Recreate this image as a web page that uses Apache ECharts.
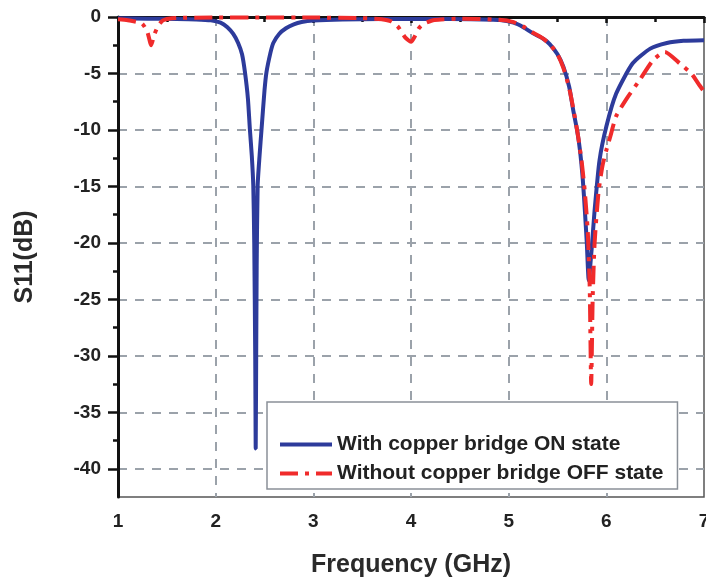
<!DOCTYPE html>
<html>
<head>
<meta charset="utf-8">
<script src="https://cdn.jsdelivr.net/npm/echarts@6/dist/echarts.min.js"></script>
<style>
  html, body { margin: 0; padding: 0; background: #fff; }
  #chart { width: 706px; height: 582px; }
</style>
</head>
<body>
<div id="chart"></div>
<script>
// values (GHz / dB)
const freqOn = [1.0, 1.3, 1.6, 1.8, 1.95, 2.05, 2.12, 2.18, 2.23, 2.27, 2.3, 2.33, 2.35, 2.37, 2.385, 2.395, 2.405, 2.41,
  2.415, 2.42, 2.43, 2.45, 2.47, 2.5, 2.52, 2.56, 2.59, 2.65, 2.72, 2.8, 2.88, 3.0, 3.3, 3.7, 4.2, 4.6, 4.91,
  5.05, 5.15, 5.25, 5.35, 5.42, 5.5, 5.56, 5.62, 5.66, 5.7, 5.73, 5.76, 5.78, 5.8, 5.82, 5.85, 5.88, 5.93, 6.0,
  6.1, 6.27, 6.45, 6.62, 6.79, 7.0]
const s11On = [-0.12, -0.15, -0.18, -0.22, -0.3, -0.5, -0.9, -1.5, -2.3, -3.3, -4.9, -7.2, -9.9, -12.3, -14.9, -20, -30, -38.2,
  -30, -22, -14.9, -12.2, -9.9, -6.5, -4.9, -3.2, -2.3, -1.5, -1.0, -0.65, -0.45, -0.32, -0.22, -0.18, -0.18, -0.2, -0.27,
  -0.5, -0.9, -1.45, -1.9, -2.4, -3.3, -4.4, -6.2, -8.2, -10.0, -11.8, -14.5, -17.1, -20, -23.3, -20.5, -17.1, -12.7, -9.7,
  -6.8, -4.1, -2.8, -2.3, -2.1, -2.05]

const freqOff = [1.0, 1.1, 1.2, 1.25, 1.3, 1.34, 1.37, 1.41, 1.46, 1.55, 2.0, 2.5, 3.0, 3.5, 3.7, 3.8, 3.87, 3.94, 4.0,
  4.04, 4.08, 4.13, 4.24, 4.5, 4.9, 5.05, 5.15, 5.25, 5.35, 5.42, 5.5, 5.56, 5.62, 5.67, 5.71, 5.75, 5.78, 5.81, 5.83,
  5.845, 5.86, 5.88, 5.92, 5.96, 6.0, 6.04, 6.1, 6.21, 6.34, 6.48, 6.6, 6.75, 6.87, 6.95, 7.0]
const s11Off = [-0.2, -0.28, -0.45, -0.6, -1.3, -2.5, -1.6, -0.8, -0.3, -0.1, -0.05, -0.05, -0.05, -0.1, -0.2, -0.4, -0.9, -1.8, -2.2,
  -1.7, -1.0, -0.6, -0.27, -0.15, -0.25, -0.45, -0.85, -1.4, -1.9, -2.4, -3.3, -4.5, -6.3, -8.5, -10.5, -13, -15.5, -19, -24,
  -32.5, -25, -20, -15.5, -13.2, -11.8, -10.6, -8.8, -7.2, -5.6, -3.8, -3.1, -4.1, -5.0, -6.0, -6.6]

const seriesNames = ['With copper bridge ON state', 'Without copper bridge OFF state']

const xMin = 1
const xMax = 7
const yMin = -42.5
const yLabelMin = -40

const font = 'Liberation Sans, Arial, sans-serif'
const gridColor = '#9ba2aa'
const inkColor = '#111'

const pairs = (xs, ys) => xs.map((x, i) => [x, ys[i]])

const chart = echarts.init(document.getElementById('chart'))

// grid 0 holds the data, grid 1 only carries the y labels and the horizontal dashes
const plotTop = 17
const plotHeight = 480
const labelHeight = plotHeight * yLabelMin / yMin

const option = {
  animation: false,
  grid: [
    { left: 118, right: 2, top: plotTop, height: plotHeight, outerBoundsMode: 'none', containLabel: false,
      show: true, borderColor: '#555', borderWidth: 1.5 },
    { left: 118, right: 2, top: plotTop, height: labelHeight, outerBoundsMode: 'none', containLabel: false },
  ],
  xAxis: [{
    gridIndex: 0,
    type: 'value',
    min: xMin,
    max: xMax,
    interval: 1,
    name: 'Frequency (GHz)',
    nameLocation: 'middle',
    nameGap: 56,
    nameTextStyle: { fontSize: 25, fontWeight: 'bold', color: '#2a2a2a', fontFamily: font },
    axisLine: { lineStyle: { color: inkColor, width: 3 } },
    axisTick: { length: 6, lineStyle: { color: inkColor, width: 2.5 } },
    minorTick: { show: true, splitNumber: 2, length: 5, lineStyle: { color: inkColor, width: 2.5 } },
    axisLabel: { fontSize: 19, fontWeight: 'bold', color: '#222', margin: 15, fontFamily: font },
    splitLine: { show: true, showMinLine: false, showMaxLine: false, lineStyle: { type: [9, 8], color: gridColor, width: 2 } },
  }, {
    gridIndex: 1,
    type: 'value',
    min: xMin,
    max: xMax,
    show: false,
  }],
  yAxis: [{
    gridIndex: 0,
    type: 'value',
    min: yMin,
    max: 0,
    name: 'S11(dB)',
    nameLocation: 'middle',
    nameGap: 80,
    nameTextStyle: { fontSize: 25, fontWeight: 'bold', color: '#2a2a2a', fontFamily: font },
    axisLine: { show: true, lineStyle: { color: inkColor, width: 3 } },
    axisTick: { show: false },
    axisLabel: { show: false },
    splitLine: { show: false },
  }, {
    gridIndex: 1,
    type: 'value',
    min: yLabelMin,
    max: 0,
    interval: 5,
    axisLine: { show: false },
    axisTick: { show: true, length: 10, lineStyle: { color: inkColor, width: 2.5 } },
    minorTick: { show: true, splitNumber: 2, length: 5, lineStyle: { color: inkColor, width: 2.5 } },
    axisLabel: { fontSize: 19, fontWeight: 'bold', color: '#222', margin: 17, fontFamily: font },
    splitLine: { show: true, showMaxLine: false, lineStyle: { type: [9, 8], color: gridColor, width: 2 } },
  }],
  legend: {
    left: 267,
    top: 402,
    orient: 'vertical',
    padding: [32, 14, 5, 11],
    itemWidth: 52,
    itemHeight: 14,
    itemGap: 8,
    backgroundColor: '#fff',
    borderColor: '#8a9098',
    borderWidth: 1.5,
    itemStyle: { opacity: 0 },
    lineStyle: { width: 4 },
    textStyle: { fontSize: 21, fontWeight: 'bold', color: '#222', fontFamily: font },
    data: seriesNames,
  },
  series: [{
    name: seriesNames[0],
    type: 'line',
    xAxisIndex: 0,
    yAxisIndex: 0,
    data: pairs(freqOn, s11On),
    symbol: 'none',
    smooth: 0.2,
    lineStyle: { color: '#2d3b9b', width: 4 },
    itemStyle: { color: '#2d3b9b' },
    z: 3,
  }, {
    name: seriesNames[1],
    type: 'line',
    xAxisIndex: 0,
    yAxisIndex: 0,
    data: pairs(freqOff, s11Off),
    symbol: 'none',
    smooth: 0.2,
    lineStyle: { color: '#f02b2b', width: 4, type: [18, 7, 4, 7] },
    itemStyle: { color: '#f02b2b' },
    z: 4,
  }],
}

chart.setOption(option)
</script>
</body>
</html>
